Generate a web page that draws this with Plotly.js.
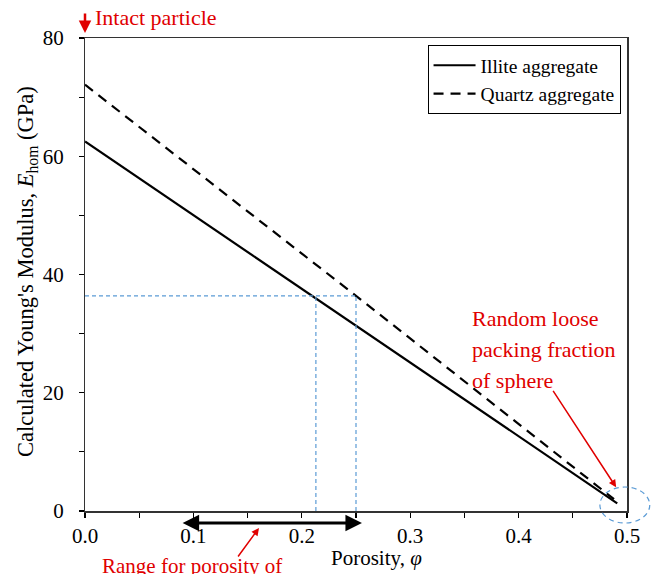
<!DOCTYPE html>
<html>
<head>
<meta charset="utf-8">
<script src="https://cdn.plot.ly/plotly-3.0.1.min.js"></script>
<style>html,body{margin:0;padding:0;background:#fff;}#chart{width:659px;height:574px;}</style>
</head>
<body>
<div id="chart"></div>
<script>
// ---- data ----
const illitePhi = [0, 0.25, 0.491];
const illiteE   = [62.5, 31.4, 1.3];
const quartzPhi = [0, 0.25, 0.488];
const quartzE   = [72.1, 36.4, 2.0];
const seriesNames = ["Illite aggregate", "Quartz aggregate"];

// guide lines (blue dashed)
const guideE = 36.4;
const guidePhi = [0.213, 0.25];
// porosity range arrow
const rangePhi = [0.0887, 0.2555];

const serif = "Liberation Serif";
const red = "#e00000";
const blue = "#5b9bd5";

const traces = [
  {x: illitePhi, y: illiteE, mode: "lines", name: seriesNames[0], legendgroup: "a",
   line: {color: "#000", width: 2.2}},
  {x: quartzPhi, y: quartzE, mode: "lines", name: seriesNames[1], legendgroup: "b",
   line: {color: "#000", width: 2.2, dash: "10px,7px"}}
];

const shapes = [
  {type: "line", xref: "x", yref: "y", x0: 0, x1: guidePhi[1], y0: guideE, y1: guideE,
   line: {color: blue, width: 1.2, dash: "4px,3px"}},
  {type: "line", xref: "x", yref: "y", x0: guidePhi[0], x1: guidePhi[0], y0: 0, y1: guideE,
   line: {color: blue, width: 1.2, dash: "4px,3px"}},
  {type: "line", xref: "x", yref: "y", x0: guidePhi[1], x1: guidePhi[1], y0: 0, y1: guideE,
   line: {color: blue, width: 1.2, dash: "4px,3px"}},
  {type: "circle", xref: "paper", yref: "paper", x0: 0.950, x1: 1.042, y0: -0.0254, y1: 0.0507,
   line: {color: blue, width: 1.2, dash: "5px,4px"}}
];

const packLines = ["Random loose", "packing fraction", "of sphere"];
const packY = [318, 349, 380];

const annotations = [
  // y title
  {xref: "paper", yref: "paper", x: (27 - 85) / 542, y: (511 - 272) / 473,
   xanchor: "center", yanchor: "middle", textangle: -90, showarrow: false,
   text: "Calculated Young's Modulus, <i>E</i><sub>hom</sub> (GPa)",
   font: {family: serif, size: 22.5, color: "#000"}},
  // Intact particle
  {xref: "paper", yref: "paper", x: 0, y: 1.0106, ax: 0, ay: -21, text: "", showarrow: true,
   arrowhead: 2, arrowsize: 1, arrowwidth: 2.5, arrowcolor: red},
  {xref: "paper", yref: "paper", x: 0.015, y: 1.044, xanchor: "left", yanchor: "middle",
   text: "Intact particle", showarrow: false, font: {family: serif, size: 22, color: red}},
  // Random loose packing arrow
  {xref: "paper", yref: "paper", x: 0.98, y: 0.05, ax: -64, ay: -98, text: "", showarrow: true,
   arrowhead: 2, arrowsize: 1, arrowwidth: 1.5, arrowcolor: red},
  // porosity range double arrow
  {xref: "paper", yref: "paper", x: rangePhi[1] / 0.5, y: -0.0254,
   ax: -(rangePhi[1] - rangePhi[0]) / 0.5 * 542, ay: 0, text: "", showarrow: true,
   arrowhead: 2, startarrowhead: 2, arrowside: "end+start", arrowsize: 1.1, startarrowsize: 1.1,
   arrowwidth: 3, arrowcolor: "#000"},
  // red arrow to range
  {xref: "paper", yref: "paper", x: 0.321, y: -0.036, ax: -22, ay: 30, text: "", showarrow: true,
   arrowhead: 2, arrowsize: 1, arrowwidth: 1.5, arrowcolor: red},
  {xref: "paper", yref: "paper", x: 0.197, y: -0.116, xanchor: "center", yanchor: "middle",
   text: "Range for porosity of", showarrow: false, font: {family: serif, size: 21, color: red}},
  // x title
  {xref: "paper", yref: "paper", x: 0.5375, y: -0.099, xanchor: "center", yanchor: "middle",
   text: "Porosity, <i>φ</i>", showarrow: false, font: {family: serif, size: 21, color: "#000"}}
];
packLines.forEach((t, i) => annotations.push({
  xref: "paper", yref: "paper", x: (470 - 85) / 542, y: (511 - packY[i]) / 473,
  xanchor: "left", yanchor: "middle", text: t, showarrow: false,
  font: {family: serif, size: 22, color: red}}));

const layout = {
  width: 659, height: 574,
  margin: {l: 85, r: 32, t: 38, b: 63, pad: 0},
  paper_bgcolor: "#fff", plot_bgcolor: "#fff",
  font: {family: serif, size: 21, color: "#000"},
  showlegend: true,
  legend: {x: 0.632, y: 0.985, xanchor: "left", yanchor: "top",
           bordercolor: "#000", borderwidth: 1, bgcolor: "#fff", itemwidth: 42,
           font: {family: serif, size: 19.5}, tracegroupgap: 0},
  xaxis: {range: [0, 0.5], dtick: 0.1, tick0: 0, tickformat: ".1f",
          ticks: "outside", ticklen: 5, tickwidth: 1.2, tickcolor: "#000",
          minor: {dtick: 0.05, ticks: "outside", ticklen: 5, tickwidth: 1.2, tickcolor: "#000"},
          showgrid: false, zeroline: false, showline: true, linecolor: "#333", linewidth: 1.5,
          mirror: true, tickfont: {family: serif, size: 21}},
  yaxis: {range: [0, 80], dtick: 20, tick0: 0, ticksuffix: "\u00a0\u00a0",
          ticks: "outside", ticklen: 5, tickwidth: 1.2, tickcolor: "#000",
          minor: {dtick: 10, ticks: "outside", ticklen: 5, tickwidth: 1.2, tickcolor: "#000"},
          showgrid: false, zeroline: false, showline: true, linecolor: "#333", linewidth: 1.5,
          mirror: true, tickfont: {family: serif, size: 21}},
  shapes: shapes,
  annotations: annotations
};

Plotly.newPlot("chart", traces, layout, {displayModeBar: false, staticPlot: true});
</script>
</body>
</html>
